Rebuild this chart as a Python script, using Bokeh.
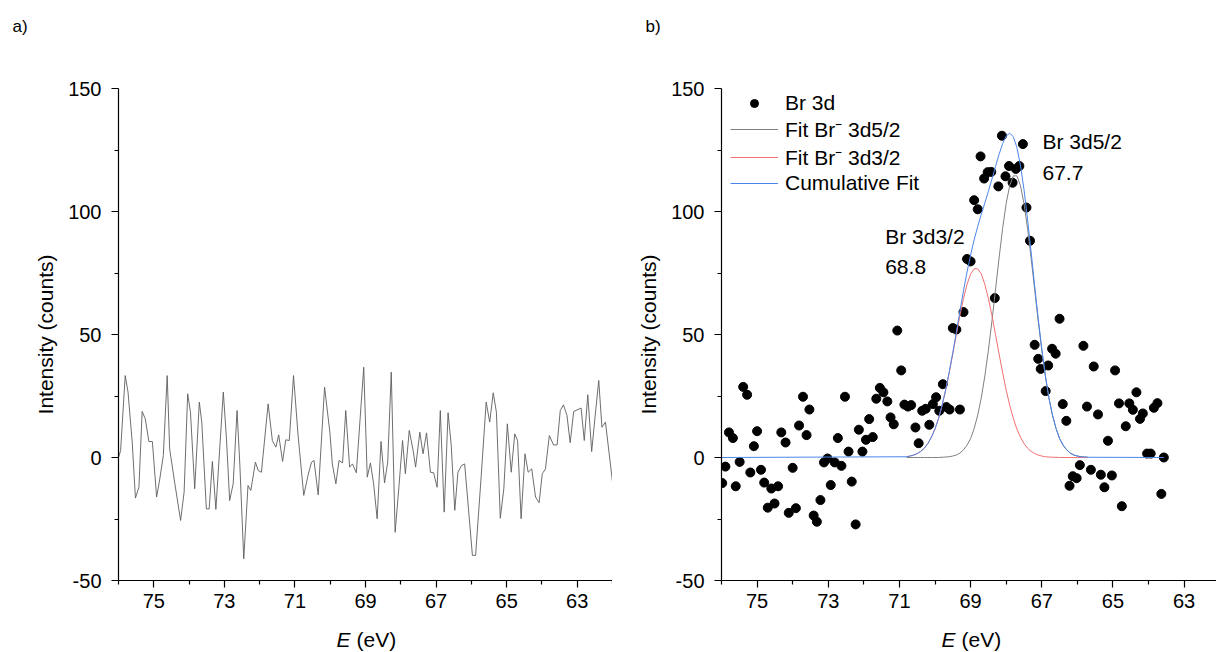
from bokeh.plotting import figure
from bokeh.layouts import row, column
from bokeh.models import FixedTicker, Label, Legend, LegendItem, Range1d
from bokeh.embed import file_html
from bokeh.resources import INLINE

FONT = "Liberation Sans"

# ---------------- data ----------------
# panel a: spectrum (line)
E_a = [76.0, 75.94, 75.81, 75.73, 75.61, 75.52, 75.42, 75.33, 75.24, 75.14,
       75.04, 74.92, 74.83, 74.73, 74.62, 74.55, 74.41, 74.24, 74.14, 74.04,
       73.96, 73.84, 73.71, 73.64, 73.51, 73.43, 73.34, 73.24, 73.03, 72.94,
       72.85, 72.75, 72.64, 72.56, 72.45, 72.33, 72.25, 72.12, 72.04, 71.95,
       71.76, 71.64, 71.54, 71.46, 71.35, 71.26, 71.16, 71.04, 70.91, 70.75,
       70.63, 70.53, 70.46, 70.34, 70.16, 70.01, 69.94, 69.84, 69.75, 69.65,
       69.56, 69.45, 69.37, 69.26, 69.05, 68.95, 68.86, 68.77, 68.67, 68.56,
       68.46, 68.37, 68.27, 68.16, 68.05, 67.95, 67.87, 67.76, 67.65, 67.58,
       67.46, 67.37, 67.27, 67.16, 67.07, 66.97, 66.88, 66.77, 66.66, 66.57,
       66.47, 66.38, 66.28, 66.19, 65.97, 65.88, 65.72, 65.58, 65.48, 65.38,
       65.29, 65.18, 65.08, 64.98, 64.87, 64.77, 64.69, 64.59, 64.48, 64.39,
       64.29, 64.18, 64.08, 63.99, 63.90, 63.79, 63.67, 63.57, 63.48, 63.39,
       63.29, 63.20, 63.10, 62.89, 62.80, 62.70, 62.59, 62.50, 62.39, 62.30,
       62.20, 62.0]
I_a = [0, 2.8, 33.3, 26.6, 6, -16.5, -12, 18.7, 15.7, 6.5,
       6.5, -16.1, -8.7, 0.8, 33.3, 3.5, -10, -25.6, -14, 25.9,
       18.4, -12.7, 22.5, 14.4, -20.9, -20.9, -1.6, -21.1, 26.6, 7.6,
       -17.5, -10.7, 19.1, -3.3, -41.2, -11.4, -13.4, -1.9, -5.3, -6.0,
       21.8, 6.9, 4.2, 9.2, -1.6, 7.2, 6.9, 33.3, 8.9, -15.4,
       -7.3, -1.9, -1.2, -15.2, 28.6, 10.3, -2.6, -10.7, -1.2, -2.2,
       19.1, -3.9, -2.6, -6.2, 36.7, -8.0, -2.2, -10.7, -24.9, 6.5,
       -10.3, -1.9, 34.7, -30.4, -11.4, 6.9, -6.6, 11.0, 2.8, -3.9,
       10.3, 1.5, 10.0, -6.0, -6.2, -12.1, 19.1, -22.2, 18.2, 4.9,
       -21.5, -6.0, -3.3, -2.6, -39.8, -39.8, -7.3, 22.5, 14.4, 26.3,
       18.4, -24.7, -12.7, 13.7, -6.0, 9.6, 6.9, -24.9, 1.5, -6.0,
       -4.6, -16.1, -18.4, -6.6, -4.6, 8.9, 5.1, 5.1, 19.1, 21.4,
       17.1, 6.0, 18.7, 20.1, 6.9, 25.5, 2.4, 15.7, 31.3, 12.3,
       14.4, -10.0]

# panel b: Br 3d data points
E_b = [75.98, 75.89, 75.79, 75.68, 75.60, 75.49, 75.39, 75.28, 75.19, 75.09,
       75.00, 74.89, 74.80, 74.70, 74.60, 74.51, 74.41, 74.32, 74.20, 74.11,
       74.00, 73.91, 73.82, 73.71, 73.61, 73.53, 73.41, 73.32, 73.22, 73.12,
       73.02, 72.93, 72.82, 72.73, 72.63, 72.53, 72.43, 72.34, 72.23, 72.14,
       72.04, 71.94, 71.85, 71.75, 71.65, 71.55, 71.45, 71.34, 71.25, 71.16,
       71.06, 70.95, 70.86, 70.76, 70.67, 70.55, 70.46, 70.36, 70.26, 70.16,
       70.06, 69.97, 69.88, 69.78, 69.68, 69.59, 69.50, 69.40, 69.30,
       69.20, 69.10, 69.00, 68.90, 68.80, 68.72, 68.62, 68.52, 68.42, 68.32,
       68.22, 68.12, 68.02, 67.92, 67.82, 67.73, 67.63, 67.53, 67.43, 67.33,
       67.20, 67.10, 67.03, 66.89, 66.82, 66.71, 66.61, 66.50, 66.41, 66.31,
       66.22, 66.13, 66.02, 65.93, 65.83, 65.73, 65.62, 65.54, 65.42, 65.34,
       65.24, 65.14, 65.03, 64.94, 64.83, 64.75, 64.64, 64.54, 64.44, 64.34,
       64.24, 64.16, 64.04, 63.94, 63.85, 63.75, 63.64, 63.57]
I_b = [-10.4, -3.7, 10.2, 7.9, -11.7, -1.8, 28.7, 25.5, -6.1, 4.6,
       10.7, -5.0, -10.2, -20.4, -12.6, -18.7, -11.7, 10.2, 6.1, -22.5,
       -4.2, -20.6, 13.0, 24.7, 9.1, 19.5, -23.6, -26.1, -17.3, -2.0,
       -0.4, -11.2, -2.0, 7.9, -3.4, 24.7, 2.4, -9.8, -27.2, 11.3,
       2.4, 7.2, 15.6, 8.3, 23.9, 28.3, 26.5, 22.8, 16.3, 13.5,
       51.6, 35.4, 21.5, 20.7, 21.3, 12.2, 5.8, 19.0, 19.8, 13.3,
       21.7, 24.5, 19.0, 29.8, 20.5, 19.5, 52.6, 52.0, 19.5,
       59.1, 80.7, 79.7, 104.6, 100.9, 122.4, 113.4, 116.0, 116.1, 64.8,
       110.2, 130.8, 114.3, 118.5, 111.7, 117.3, 118.5, 127.4, 101.6, 88.1,
       45.8, 40.1, 36.0, 27.0, 37.4, 44.2, 42.2, 56.4, 21.7, 14.9,
       -11.5, -7.6, -8.4, -3.1, 45.4, 20.7, -5.0, 37.0, 17.5, -7.0,
       -12.1, 6.8, -7.3, 35.4, 22.0, -19.8, 12.7, 22.0, 19.4, 26.5,
       15.7, 17.9, 1.6, 1.6, 20.2, 22.1, -14.8, 0.0]

# panel b: fitted components
fit_E = [70.8, 70.7, 70.6, 70.5, 70.4, 70.3, 70.2, 70.1, 70.0, 69.9,
         69.8, 69.7, 69.6, 69.5, 69.4, 69.3, 69.2, 69.1, 69.0, 68.9,
         68.8, 68.7, 68.6, 68.5, 68.4, 68.3, 68.2, 68.1, 68.0, 67.9,
         67.8, 67.7, 67.6, 67.5, 67.4, 67.3, 67.2, 67.1, 67.0, 66.9,
         66.8, 66.7, 66.6, 66.5, 66.4, 66.3, 66.2, 66.1, 66.0, 65.9,
         65.8, 65.7]
fit_35 = [0, 0, 0, 0, 0, 0, 0, 0, 0, 0,
          0.1, 0.2, 0.3, 0.6, 1.0, 1.8, 3.1, 5.0, 7.7, 11.8,
          17.2, 24.2, 33.1, 43.6, 55.5, 68.3, 81.1, 93.1, 103.3, 110.6,
          114.5, 114.5, 110.6, 103.3, 93.1, 81.1, 68.3, 55.5, 43.6, 33.1,
          24.2, 17.2, 11.8, 7.7, 5.0, 3.1, 1.8, 1.0, 0.6, 0.3,
          0.2, 0.1]
fit_33 = [0.3, 0.6, 1.0, 1.6, 2.5, 3.8, 5.7, 8.3, 11.6, 15.9,
          21.2, 27.4, 34.5, 42.1, 50.0, 57.7, 64.6, 70.4, 74.6, 76.7,
          76.7, 74.6, 70.4, 64.6, 57.7, 50.0, 42.1, 34.5, 27.4, 21.2,
          15.9, 11.6, 8.3, 5.7, 3.8, 2.5, 1.6, 1.0, 0.6, 0.3,
          0.2, 0.1, 0.1, 0, 0, 0, 0, 0, 0, 0,
          0, 0]
cum_E = [76.0] + fit_E + [63.57]
cum_I = [0.0, 0.3, 0.6, 1.0, 1.6, 2.5, 3.8, 5.7, 8.3, 11.6, 15.9,
         21.3, 27.6, 34.8, 42.7, 51.0, 59.5, 67.7, 75.4, 82.3, 88.5,
         93.9, 98.8, 103.5, 108.2, 113.2, 118.3, 123.2, 127.6, 130.7, 131.8,
         130.4, 126.1, 118.9, 109.0, 96.9, 83.6, 69.9, 56.5, 44.2, 33.4,
         24.4, 17.3, 11.9, 7.7, 5.0, 3.1, 1.8, 1.0, 0.6, 0.3,
         0.2, 0.1, 0.0]

X_TICKS = [75, 73, 71, 69, 67, 65, 63]
X_MINOR = [76, 74, 72, 70, 68, 66, 64, 62]
Y_TICKS = [-50, 0, 50, 100, 150]
Y_MINOR = [-25, 25, 75, 125]
Y_LABELS = {-50: "-50", 0: "0", 50: "50", 100: "100", 150: "150"}

TOP_H, MID_H, BOT_H = 44, 576, 32
W_A, W_B = 612, 604


def text_strip(height):
    """A bare strip (no axes) used only to hold text annotations."""
    s = figure(width=W_A + W_B, height=height, output_backend="svg", toolbar_location=None,
               x_range=Range1d(0, W_A + W_B), y_range=Range1d(0, height),
               x_axis_location=None, y_axis_location=None, min_border=0)
    s.outline_line_color = None
    s.xgrid.visible = False
    s.ygrid.visible = False
    return s


def make_fig(width, border_left, x_end):
    p = figure(width=width, height=MID_H, output_backend="svg", toolbar_location=None,
               x_range=Range1d(76, x_end), y_range=Range1d(-50, 150),
               min_border_left=border_left, min_border_right=0,
               min_border_top=44, min_border_bottom=40)
    p.outline_line_color = None
    p.xgrid.visible = False
    p.ygrid.visible = False
    p.xaxis.ticker = FixedTicker(ticks=X_TICKS, minor_ticks=X_MINOR)
    p.yaxis.ticker = FixedTicker(ticks=Y_TICKS, minor_ticks=Y_MINOR)
    p.yaxis.major_label_overrides = Y_LABELS
    for ax in (p.xaxis[0], p.yaxis[0]):
        ax.axis_line_width = 1.2
        ax.axis_line_color = "black"
        ax.major_tick_line_width = 1.2
        ax.minor_tick_line_width = 1.2
        ax.major_tick_line_color = "black"
        ax.minor_tick_line_color = "black"
        ax.major_tick_out = 7
        ax.major_tick_in = 0
        ax.minor_tick_out = 4
        ax.minor_tick_in = 0
        ax.major_label_text_font = FONT
        ax.major_label_text_font_size = "20px"
        ax.major_label_text_color = "black"
    p.xaxis.major_label_standoff = 6
    p.yaxis.major_label_standoff = 10
    p.yaxis.axis_label = "Intensity (counts)"
    p.yaxis.axis_label_text_font = FONT
    p.yaxis.axis_label_text_font_size = "21px"
    p.yaxis.axis_label_text_font_style = "normal"
    p.yaxis.axis_label_text_color = "black"
    p.yaxis.axis_label_standoff = 8
    return p


def add_text(fig, txt, x, y, size, style="normal"):
    fig.add_layout(Label(x=x, y=y, text=txt, text_font=FONT, text_font_size=size,
                         text_font_style=style, text_color="black",
                         text_baseline="alphabetic", text_align="left"))


# ---------------- panel tags (top strip) ----------------
top = text_strip(TOP_H)
add_text(top, "a)", 12, 18.5, "17px")
add_text(top, "b)", 645, 18.5, "17px")

# ---------------- panel a ----------------
pa = make_fig(W_A, 118, 62.0)
pa.line(E_a, I_a, line_color="#5e5e5e", line_width=0.9)

# ---------------- panel b ----------------
pb = make_fig(W_B, 109, 62.09)
r_pts = pb.scatter(E_b, I_b, size=9, color="black")
r_35 = pb.line(fit_E, fit_35, line_color="#808080", line_width=1)
r_33 = pb.line(fit_E, fit_33, line_color="#f27070", line_width=1)
r_cum = pb.line(cum_E, cum_I, line_color="#4a86e8", line_width=1)

legend = Legend(items=[
    LegendItem(label="Br 3d", renderers=[r_pts]),
    LegendItem(label="Fit Br\u207b 3d5/2", renderers=[r_35]),
    LegendItem(label="Fit Br\u207b 3d3/2", renderers=[r_33]),
    LegendItem(label="Cumulative Fit", renderers=[r_cum]),
], location=(9, 385))
legend.label_text_font = FONT
legend.label_text_font_size = "21px"
legend.label_text_color = "black"
legend.glyph_width = 48
legend.glyph_height = 20
legend.label_standoff = 7
legend.spacing = 0
legend.padding = 0
legend.margin = 0
legend.border_line_color = None
legend.background_fill_alpha = 0
pb.add_layout(legend)

for txt, x, y in [("Br 3d5/2", 66.98, 128.5), ("67.7", 66.98, 115.5),
                  ("Br 3d3/2", 71.40, 89.9), ("68.8", 71.40, 77.3)]:
    add_text(pb, txt, x, y, "21px")

# ---------------- x-axis titles (bottom strip) ----------------
bot = text_strip(BOT_H)
for x_e, x_u in [(336, 356), (941, 961)]:
    add_text(bot, "E", x_e, 13, "21px", "italic")
    add_text(bot, "(eV)", x_u, 13, "21px")

layout = column(top, row(pa, pb), bot)
open("out.html", "w").write(file_html(layout, INLINE))
